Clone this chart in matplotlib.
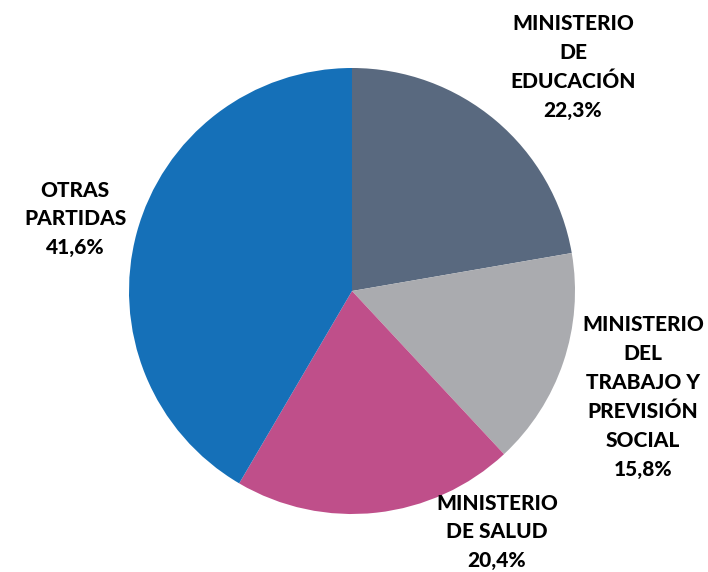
import matplotlib.pyplot as plt

# data
labels = ["MINISTERIO\nDE\nEDUCACIÓN", "MINISTERIO\nDEL\nTRABAJO Y\nPREVISIÓN\nSOCIAL",
          "MINISTERIO\nDE SALUD", "OTRAS\nPARTIDAS"]
values = [22.3, 15.8, 20.4, 41.6]
colors = ["#59697F", "#AAABAF", "#BF4F8A", "#1570B8"]

# label centres in pixels (x from left, y from top) of the 708x572 image
label_px = [(573, 67), (643, 397), (497, 532), (75, 219)]

W, H = 708, 572
cx, cy, r = 352, 291, 223

fig = plt.figure(figsize=(W / 100, H / 100), dpi=100)
ax = fig.add_axes([0, 0, 1, 1])
ax.pie(values, colors=colors, startangle=90, counterclock=False, radius=1,
       wedgeprops=dict(linewidth=0))
ax.set_xlim(-cx / r, (W - cx) / r)
ax.set_ylim(-(H - cy) / r, cy / r)
ax.set_aspect("equal")
ax.axis("off")

for lab, v, (px, py) in zip(labels, values, label_px):
    txt = lab + "\n" + f"{v:.1f}".replace(".", ",") + "%"
    ax.text((px - cx) / r, (cy - py) / r, txt, ha="center", va="center",
            fontsize=15, fontweight="black", family="Lato", color="black",
            linespacing=1.62)

fig.savefig("out.png", dpi=100)
